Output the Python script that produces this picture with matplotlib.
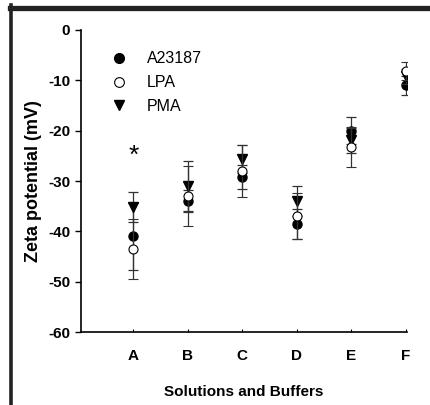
import numpy as np
import matplotlib.pyplot as plt
from matplotlib.lines import Line2D

plt.rcParams['font.family'] = ['Liberation Sans', 'DejaVu Sans']
plt.rcParams['axes.unicode_minus'] = False

categories = ['A', 'B', 'C', 'D', 'E', 'F']
a23187 = [-41.0, -34.0, -29.2, -38.5, -20.0, -11.0]
a23187_err = [6.7, 2.2, 2.3, 3.0, 2.7, 1.9]
lpa = [-43.5, -33.0, -28.0, -37.0, -23.2, -8.1]
lpa_err = [6.0, 6.0, 5.2, 4.6, 4.0, 1.8]
pma = [-35.2, -31.0, -25.7, -34.0, -21.9, -9.2]
pma_err = [3.0, 5.0, 2.8, 3.0, 2.5, 1.5]

x = np.arange(1, len(categories) + 1)

fig = plt.figure(figsize=(4.31, 4.05), dpi=100, facecolor='white')
ax = fig.add_axes([0.187, 0.180, 0.757, 0.746])

ekw = dict(ecolor='#333333', elinewidth=0.9, capsize=3.5, capthick=0.9, linestyle='none')
ax.errorbar(x, pma, yerr=pma_err, fmt='v', color='black', ms=6.5, label='PMA', zorder=3, **ekw)
ax.errorbar(x, lpa, yerr=lpa_err, fmt='o', mfc='white', mec='black', mew=0.8, ms=6.5, label='LPA', zorder=4, **ekw)
ax.errorbar(x, a23187, yerr=a23187_err, fmt='o', color='black', ms=6.5, label='A23187', zorder=2, **ekw)

ax.text(1, -25, '*', ha='center', va='center', fontsize=19)

ax.set_xlim(0.03, 6.02)
ax.set_ylim(-60, 0)
ax.set_yticks(np.arange(-60, 1, 10))
ax.set_xticks(x)
ax.set_xticklabels(categories)
ax.spines['top'].set_visible(False)
ax.spines['right'].set_visible(False)
ax.spines['left'].set_linewidth(1.2)
ax.spines['bottom'].set_linewidth(1.2)
ax.tick_params(axis='y', direction='out', length=4, width=1, labelsize=11)
ax.tick_params(axis='x', direction='in', length=2, width=0.8, labelsize=11, pad=12)
for lbl in ax.get_xticklabels() + ax.get_yticklabels():
    lbl.set_fontweight('bold')

ax.set_ylabel('Zeta potential (mV)', fontsize=13, fontweight='bold', labelpad=4)
ax.set_xlabel('Solutions and Buffers', fontsize=11, fontweight='bold', labelpad=16)

handles = [
    Line2D([], [], marker='o', color='black', ls='none', ms=7),
    Line2D([], [], marker='o', mfc='white', mec='black', mew=0.8, ls='none', ms=7),
    Line2D([], [], marker='v', color='black', ls='none', ms=7),
]
ax.legend(handles, ['A23187', 'LPA', 'PMA'], loc='upper left', bbox_to_anchor=(0.05, 0.95),
          frameon=False, fontsize=11.5, handletextpad=0.75, labelspacing=0.55, borderaxespad=0)

# frame border on left and top
fig.add_artist(Line2D([11.5 / 431, 11.5 / 431], [0, 1 - 5 / 405], color='#222222', lw=2.6,
                      transform=fig.transFigure))
fig.add_artist(Line2D([10 / 431, 1], [1 - 7.5 / 405, 1 - 7.5 / 405], color='#222222', lw=3.8,
                      transform=fig.transFigure))

plt.savefig('out.png', dpi=100, facecolor='white')
